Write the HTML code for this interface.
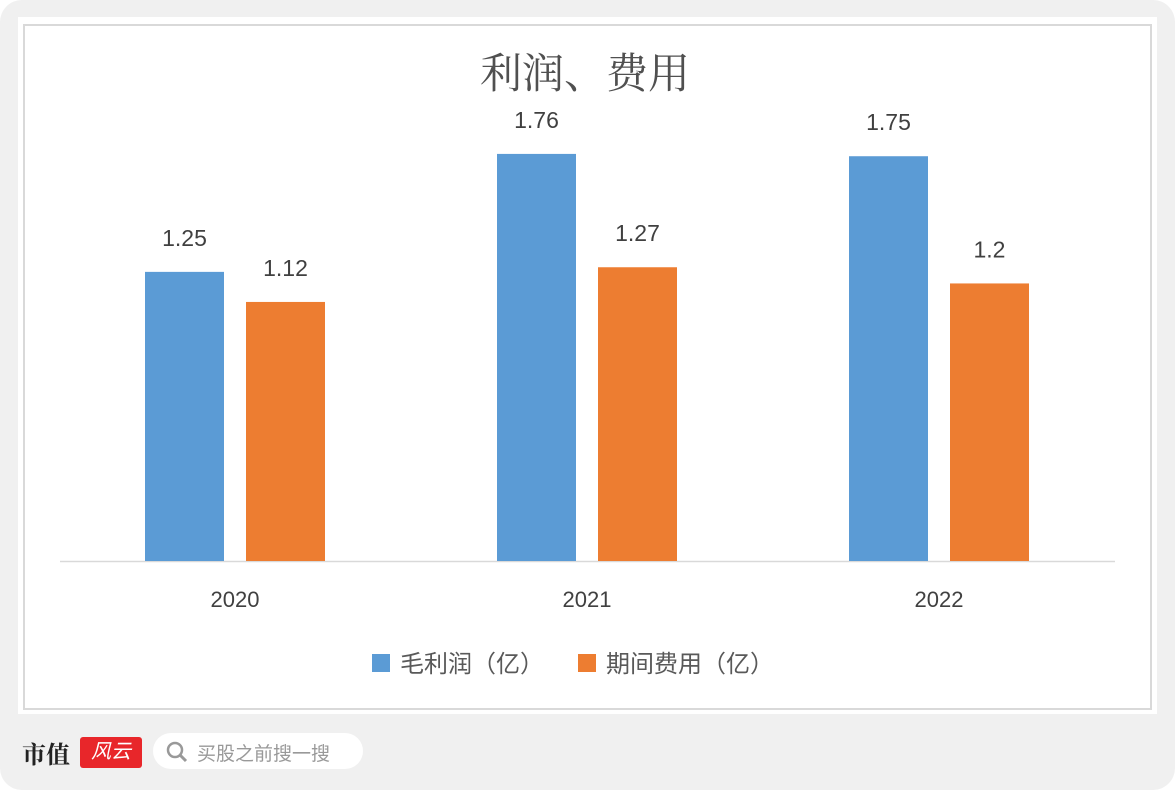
<!DOCTYPE html>
<html><head><meta charset="utf-8"><style>
html,body{margin:0;padding:0;background:#fff}
body{width:1175px;height:790px;position:relative;overflow:hidden;font-family:"Liberation Sans","Noto Sans CJK SC",sans-serif}
#bg{position:absolute;left:0;top:0;width:1175px;height:790px;background:#f0f0f0;border-radius:22px}
#white{position:absolute;left:18px;top:17px;width:1139px;height:697px;background:#fff}
#inner{position:absolute;left:23px;top:24px;width:1125px;height:682px;border:2px solid #d9d9d9;background:#fff}
</style></head><body>
<div id="bg"></div>
<div id="white"></div>
<div id="inner"></div>
<svg id="chart" width="1175" height="790" style="position:absolute;left:0;top:0">
<text x="585" y="88" text-anchor="middle" font-size="42" fill="#505050" font-family="Liberation Serif, Noto Serif CJK SC, serif">利润、费用</text>
<line x1="60" y1="561.5" x2="1115" y2="561.5" stroke="#d9d9d9" stroke-width="1.5"/>
<g id="marks"></g>
<rect x="372" y="654" width="18" height="18" fill="#5b9bd5"/>
<text x="400" y="672" font-size="24" fill="#595959">毛利润（亿）</text>
<rect x="578" y="654" width="18" height="18" fill="#ed7d31"/>
<text x="606" y="672" font-size="24" fill="#595959">期间费用（亿）</text>
</svg>
<div style="position:absolute;left:22px;top:735px;font-size:24px;font-weight:bold;color:#222;font-family:'Noto Serif CJK SC',serif">市值</div>
<div style="position:absolute;left:80px;top:737px;width:62px;height:31px;background:#e8262a;border-radius:3px;color:#fff;font-size:20px;font-style:italic;text-align:center;line-height:31px">风云</div>
<div style="position:absolute;left:153px;top:733px;width:210px;height:36px;background:#fff;border-radius:18px">
<svg width="24" height="24" style="position:absolute;left:12px;top:7px"><circle cx="10" cy="10" r="7" stroke="#999" stroke-width="2.5" fill="none"/><line x1="15" y1="15" x2="21" y2="21" stroke="#999" stroke-width="3"/></svg>
<span style="position:absolute;left:44px;top:6px;font-size:19px;color:#999">买股之前搜一搜</span></div>
<script>
const categories=["2020","2021","2022"];
const grossProfit=[1.25,1.76,1.75];
const periodExpense=[1.12,1.27,1.2];
const valueLabels1=["1.25","1.76","1.75"];
const valueLabels2=["1.12","1.27","1.2"];
const NS="http://www.w3.org/2000/svg";
const g=document.getElementById("marks");
const y0=561,k=231.3;
function yScale(v){return y0-v*k;}
function xCenter(i){return 235+i*352;}
function mk(tag,attrs){const e=document.createElementNS(NS,tag);for(const a in attrs)e.setAttribute(a,attrs[a]);g.appendChild(e);return e;}
categories.forEach((c,i)=>{
  const cx=xCenter(i);
  [[grossProfit,valueLabels1,"#5b9bd5",-90,"gross-profit"],[periodExpense,valueLabels2,"#ed7d31",11,"period-expense"]].forEach(s=>{
    const v=s[0][i],y=yScale(v);
    const r=mk("rect",{x:cx+s[3],y:y,width:79,height:y0-y,fill:s[2]});
    
    
    const t=mk("text",{x:cx+s[3]+39.5,y:y-26,"text-anchor":"middle","font-size":"23",fill:"#404040"});
    t.textContent=s[1][i];
    
    
  });
  const l=mk("text",{x:cx,y:607,"text-anchor":"middle","font-size":"22",fill:"#404040"});
  l.textContent=c;
  
  
});
</script>
</body></html>
